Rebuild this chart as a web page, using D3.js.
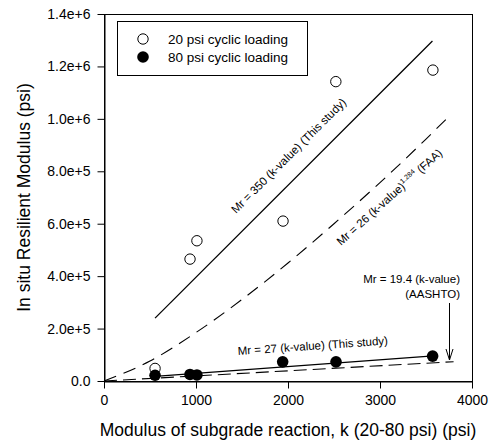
<!DOCTYPE html>
<html lang="en">
    <head>
        <meta charset="utf-8">
        <title>Resilient modulus vs k-value</title>
        <script src="https://cdn.jsdelivr.net/npm/d3@7"></script>
        <style>
            body { margin: 0; background: #fff; }
        </style>
    </head>
    <body>
        <script type="text/javascript">
            // Measured points
            var kOpen = [555, 935, 1010, 1946, 2520, 3575];
            var mrOpen = [48000, 465000, 535000, 610000, 1142000, 1186000];
            var kFilled = [555, 935, 1010, 1942, 2522, 3572];
            var mrFilled = [22000, 25000, 23000, 73000, 73000, 95000];

            // Fitted / reference lines
            var kFit20 = [555, 3570];
            var mrFit20 = [240000, 1297000];
            var kFit80 = [555, 3580];
            var mrFit80 = [18000, 96000];
            var kFaa = [0, 500, 1000, 1500, 2000, 2500, 3000, 3500, 3760];
            var mrFaa = [0, 76000, 185000, 311000, 450000, 600000, 757000, 923000, 1013000];
            var kAashto = [0, 3800];
            var mrAashto = [0, 73700];

            // Ticks and labels
            var xTicks = [0, 1000, 2000, 3000, 4000];
            var yTicks = [0, 200000, 400000, 600000, 800000, 1000000, 1200000, 1400000];
            var legendLabels = ["20 psi cyclic loading", "80 psi cyclic loading"];

            var w = 489;
            var h = 443;
            var font = "'Liberation Sans', Arial, sans-serif";

            var xScale = d3.scaleLinear().domain([0, 4000]).range([104, 472]);
            var yScale = d3.scaleLinear().domain([0, 1400000]).range([381, 14]);

            var svg = d3.select("body")
                        .append("svg")
                        .attr("width", w)
                        .attr("height", h)
                        .style("font-family", font);

            // Frame
            svg.append("rect")
                .attr("x", xScale(0) + 0.5)
                .attr("y", yScale(1400000) + 0.5)
                .attr("width", xScale(4000) - xScale(0))
                .attr("height", yScale(0) - yScale(1400000))
                .attr("fill", "none")
                .attr("stroke", "#000")
                .attr("stroke-width", 1);

            // Axes
            var fmtY = function(d) { return d === 0 ? "0.0" : d3.format(".1e")(d); };
            var yAxis = d3.axisLeft(yScale).tickValues(yTicks).tickFormat(fmtY)
                          .tickSize(7).tickSizeOuter(0).tickPadding(7);
            var xAxis = d3.axisBottom(xScale).tickValues(xTicks).tickFormat(d3.format("d"))
                          .tickSize(7).tickSizeOuter(0).tickPadding(7);

            svg.append("g")
                .attr("transform", "translate(" + (xScale(0) + 0.5) + ",0)")
                .call(yAxis)
                .attr("font-size", 14)
                .attr("font-family", font);

            svg.append("g")
                .attr("transform", "translate(0," + (yScale(0) + 0.5) + ")")
                .call(xAxis)
                .attr("font-size", 14)
                .attr("font-family", font);

            svg.selectAll(".tick text").attr("fill", "#000");
            svg.selectAll(".domain, .tick line").attr("stroke", "#000");

            // Axis titles
            svg.append("text")
                .attr("x", (xScale(0) + xScale(4000)) / 2)
                .attr("y", 436)
                .attr("text-anchor", "middle")
                .attr("font-size", 17.5)
                .text("Modulus of subgrade reaction, k (20-80 psi) (psi)");

            svg.append("text")
                .attr("transform", "translate(30," + ((yScale(0) + yScale(1400000)) / 2) + ") rotate(-90)")
                .attr("text-anchor", "middle")
                .attr("font-size", 17.5)
                .text("In situ Resilient Modulus (psi)");

            // Lines
            var line = d3.line()
                .x(function(d) { return xScale(d[0]); })
                .y(function(d) { return yScale(d[1]); });
            var curve = d3.line()
                .x(function(d) { return xScale(d[0]); })
                .y(function(d) { return yScale(d[1]); })
                .curve(d3.curveMonotoneX);

            svg.append("path")
                .datum(d3.zip(kFit20, mrFit20))
                .attr("d", line)
                .attr("fill", "none").attr("stroke", "#000").attr("stroke-width", 1.3);

            svg.append("path")
                .datum(d3.zip(kFit80, mrFit80))
                .attr("d", line)
                .attr("fill", "none").attr("stroke", "#000").attr("stroke-width", 1.3);

            svg.append("path")
                .datum(d3.zip(kFaa, mrFaa))
                .attr("d", curve)
                .attr("fill", "none").attr("stroke", "#000").attr("stroke-width", 1.1)
                .attr("stroke-dasharray", "13,8");

            svg.append("path")
                .datum(d3.zip(kAashto, mrAashto))
                .attr("d", line)
                .attr("fill", "none").attr("stroke", "#000").attr("stroke-width", 1.1)
                .attr("stroke-dasharray", "13,6");

            // Points
            svg.selectAll("circle.filled")
                .data(d3.zip(kFilled, mrFilled))
                .enter()
                .append("circle")
                .attr("class", "filled")
                .attr("cx", function(d) { return xScale(d[0]); })
                .attr("cy", function(d) { return yScale(d[1]); })
                .attr("r", 5.8)
                .attr("fill", "#000");

            svg.selectAll("circle.open")
                .data(d3.zip(kOpen, mrOpen))
                .enter()
                .append("circle")
                .attr("class", "open")
                .attr("cx", function(d) { return xScale(d[0]); })
                .attr("cy", function(d) { return yScale(d[1]); })
                .attr("r", 5.2)
                .attr("fill", "none")
                .attr("stroke", "#000")
                .attr("stroke-width", 1);

            // Annotations
            svg.append("text")
                .attr("transform", "translate(236,214) rotate(-45)")
                .attr("font-size", 11.5)
                .text("Mr = 350 (k-value) (This study)");

            var faa = svg.append("text")
                .attr("transform", "translate(341,246) rotate(-42)")
                .attr("font-size", 11.5);
            faa.append("tspan").text("Mr = 26 (k-value)");
            faa.append("tspan").attr("dy", -5).attr("font-size", 7).text("1.284");
            faa.append("tspan").attr("dy", 5).text("  (FAA)");

            svg.append("text")
                .attr("transform", "translate(238,355) rotate(-4)")
                .attr("font-size", 11.5)
                .text("Mr = 27 (k-value) (This study)");

            svg.append("text")
                .attr("x", 460).attr("y", 283)
                .attr("text-anchor", "end")
                .attr("font-size", 11.5)
                .text("Mr = 19.4 (k-value)");
            svg.append("text")
                .attr("x", 460).attr("y", 298)
                .attr("text-anchor", "end")
                .attr("font-size", 11.5)
                .text("(AASHTO)");

            // Arrow to AASHTO line
            svg.append("line")
                .attr("x1", 449.5).attr("y1", 303).attr("x2", 449.5).attr("y2", 360)
                .attr("stroke", "#000").attr("stroke-width", 1);
            svg.append("path")
                .attr("d", "M446,349 L449.5,360 L453,349")
                .attr("fill", "none").attr("stroke", "#000").attr("stroke-width", 1);

            // Legend
            var legend = svg.append("g");
            legend.append("rect")
                .attr("x", 117.5).attr("y", 21.5)
                .attr("width", 190).attr("height", 54)
                .attr("fill", "#fff").attr("stroke", "#000").attr("stroke-width", 1);
            legend.append("circle")
                .attr("cx", 143).attr("cy", 39).attr("r", 5.2)
                .attr("fill", "#fff").attr("stroke", "#000");
            legend.append("circle")
                .attr("cx", 143).attr("cy", 57).attr("r", 5.8)
                .attr("fill", "#000");
            legend.selectAll("text")
                .data(legendLabels)
                .enter()
                .append("text")
                .attr("x", 168)
                .attr("y", function(d, i) { return 44 + i * 18; })
                .attr("font-size", 13.5)
                .text(function(d) { return d; });
        </script>
    </body>
</html>
